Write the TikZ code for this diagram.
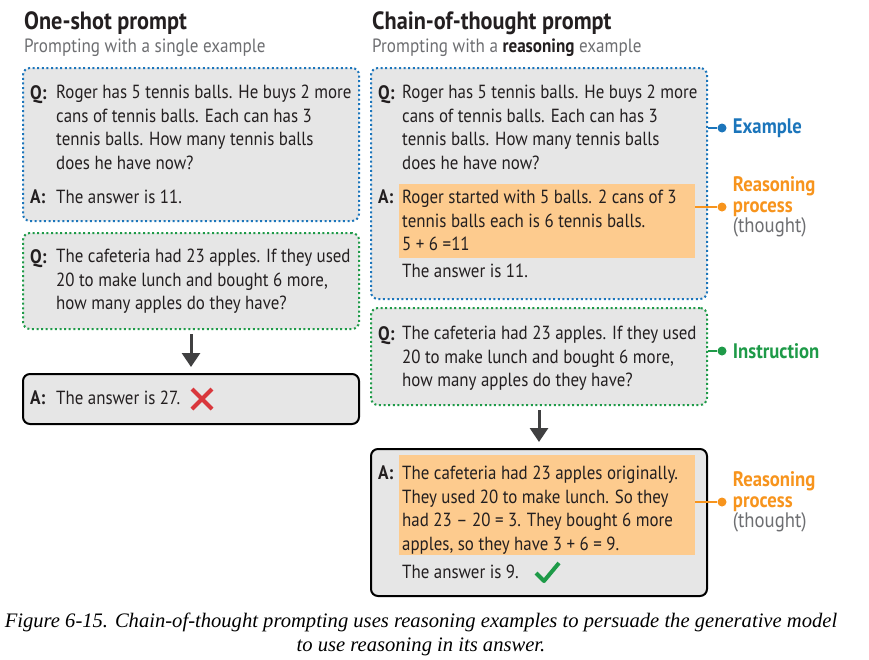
\documentclass[tikz,border=0pt]{standalone}
\usepackage{fontspec}
\setmainfont{Liberation Serif}
\newfontfamily\boxfont[FakeStretch=0.89]{PT Sans}
\usetikzlibrary{arrows.meta,positioning}
\definecolor{exblue}{HTML}{1B75BB}
\definecolor{ingreen}{HTML}{1E9A48}
\definecolor{rsorange}{HTML}{F7941D}
\definecolor{hlorange}{HTML}{FDCB8E}
\definecolor{boxgray}{HTML}{E6E6E6}
\definecolor{inkgray}{HTML}{231F20}
\definecolor{subgray}{HTML}{6D6E71}
\definecolor{arrgray}{HTML}{404041}
\definecolor{xred}{HTML}{D9373C}

\begin{document}
\begin{tikzpicture}[x=1pt,y=-1pt,
  box/.style={rectangle,rounded corners=7pt,fill=boxgray,anchor=north west,inner sep=0,minimum width=336pt},
  exbox/.style={box,draw=exblue,line width=2pt,dash pattern=on 2pt off 2.6pt},
  inbox/.style={box,draw=ingreen,line width=2pt,dash pattern=on 2pt off 2.6pt},
  ansbox/.style={box,draw=black,line width=2pt},
  hl/.style={rectangle,fill=hlorange,anchor=north west,inner sep=0,minimum width=296pt},
  txt/.style={anchor=north west,inner sep=0,align=left,text=inkgray,font=\boxfont\fontsize{19}{23.6}\selectfont},
  qa/.style={txt,font=\boxfont\bfseries\fontsize{19.5}{23.6}\selectfont},
  title/.style={anchor=north west,inner sep=0,text=inkgray,font=\boxfont\bfseries\fontsize{25}{28}\selectfont},
  subtitle/.style={anchor=north west,inner sep=0,text=subgray,font=\boxfont\fontsize{19.2}{22}\selectfont},
  dot/.style={circle,fill=#1,inner sep=0,minimum size=9pt},
  lbl/.style={anchor=west,inner sep=0,align=left,font=\boxfont\bfseries\fontsize{21}{20.7}\selectfont},
  arr/.style={arrgray,line width=3pt,-{Triangle[width=18pt,length=14pt]},shorten <=4pt,shorten >=6pt}]
\useasboundingbox (0,0) rectangle (869,659);

\node[title] (t1) at (24,11) {One-shot prompt};
\node[subtitle] (s1) at (24,39) {Prompting with a single example};
\node[title] (t2) at (372,11) {Chain-of-thought prompt};
\node[subtitle] (s2) at (372,39) {Prompting with a \textbf{\color{inkgray}reasoning} example};

\node[exbox,minimum height=153pt] (b1) at (22,67) {};
\node[inbox,minimum height=96pt] (b2) at (22,232) {};
\node[ansbox,minimum height=50pt] (b3) at (22,373) {};
\node[exbox,minimum height=231pt] (b4) at (370,67) {};
\node[inbox,minimum height=97pt] (b5) at (370,307) {};
\node[ansbox,minimum height=147pt] (b6) at (370,448) {};
\node[hl,minimum height=74pt] (h1) at (399,184) {};
\node[hl,minimum height=100pt] (h2) at (399,455) {};

\draw[arr] (b2) -- (b3);
\draw[arr] (b5) -- (b6);

\node[qa] (q1) at (30,85) {Q:};
\node[txt] (q1t) at (56,85) {Roger has 5 tennis balls. He buys 2 more\\cans of tennis balls. Each can has 3\\tennis balls. How many tennis balls\\does he have now?};
\node[qa] (a1) at (30,190) {A:};
\node[txt] (a1t) at (56,190) {The answer is 11.};
\node[qa] (q2) at (30,249) {Q:};
\node[txt] (q2t) at (56,249) {The cafeteria had 23 apples. If they used\\20 to make lunch and bought 6 more,\\how many apples do they have?};
\node[qa] (a2) at (30,391) {A:};
\node[txt] (a2t) at (56,391) {The answer is 27.};

\node[qa] (q3) at (378,85) {Q:};
\node[txt] (q3t) at (402,85) {Roger has 5 tennis balls. He buys 2 more\\cans of tennis balls. Each can has 3\\tennis balls. How many tennis balls\\does he have now?};
\node[qa] (a3) at (378,190) {A:};
\node[txt] (a3t) at (402,190) {Roger started with 5 balls. 2 cans of 3\\tennis balls each is 6 tennis balls.\\5 + 6 =11};
\node[txt] (a3e) at (402,264) {The answer is 11.};
\node[qa] (q4) at (378,326) {Q:};
\node[txt] (q4t) at (402,326) {The cafeteria had 23 apples. If they used\\20 to make lunch and bought 6 more,\\how many apples do they have?};
\node[qa] (a4) at (378,466) {A:};
\node[txt] (a4t) at (402,466) {The cafeteria had 23 apples originally.\\They used 20 to make lunch. So they\\had 23 – 20 = 3. They bought 6 more\\apples, so they have 3 + 6 = 9.};
\node[txt] (a4e) at (402,565) {The answer is 9.};

\coordinate (xm) at (202,399);
\draw[xred,line width=4pt] (xm) ++(-10,-10) -- ++(20,20) (xm) ++(-10,10) -- ++(20,-20);
\coordinate (ck) at (547,573);
\draw[ingreen,line width=4pt,line join=round] (ck) ++(-11,0) -- ++(8,8) -- ++(15,-18);

\node[dot=exblue] (d1) at (722,128) {};
\node[dot=rsorange] (d2) at (722,207) {};
\node[dot=ingreen] (d3) at (722,351) {};
\node[dot=rsorange] (d4) at (722,502) {};
\draw[exblue,line width=2pt] (b4.east |- d1) -- (d1);
\draw[rsorange,line width=2pt] (h1.east |- d2) -- (d2);
\draw[ingreen,line width=2pt] (b5.east |- d3) -- (d3);
\draw[rsorange,line width=2pt] (h2.east |- d4) -- (d4);
\node[lbl,text=exblue,right=6pt of d1] (l1) {Example};
\node[lbl,text=rsorange,right=6pt of d2] (l2) {Reasoning\\process\\{\color{subgray}\mdseries (thought)}};
\node[lbl,text=ingreen,right=6pt of d3] (l3) {Instruction};
\node[lbl,text=rsorange,right=6pt of d4] (l4) {Reasoning\\process\\{\color{subgray}\mdseries (thought)}};

\node[align=center,inner sep=0,font=\itshape\fontsize{20.6}{24}\selectfont] (cap) at (421,634) {Figure 6-15. Chain-of-thought prompting uses reasoning examples to persuade the generative model\\to use reasoning in its answer.};
\end{tikzpicture}
\end{document}
